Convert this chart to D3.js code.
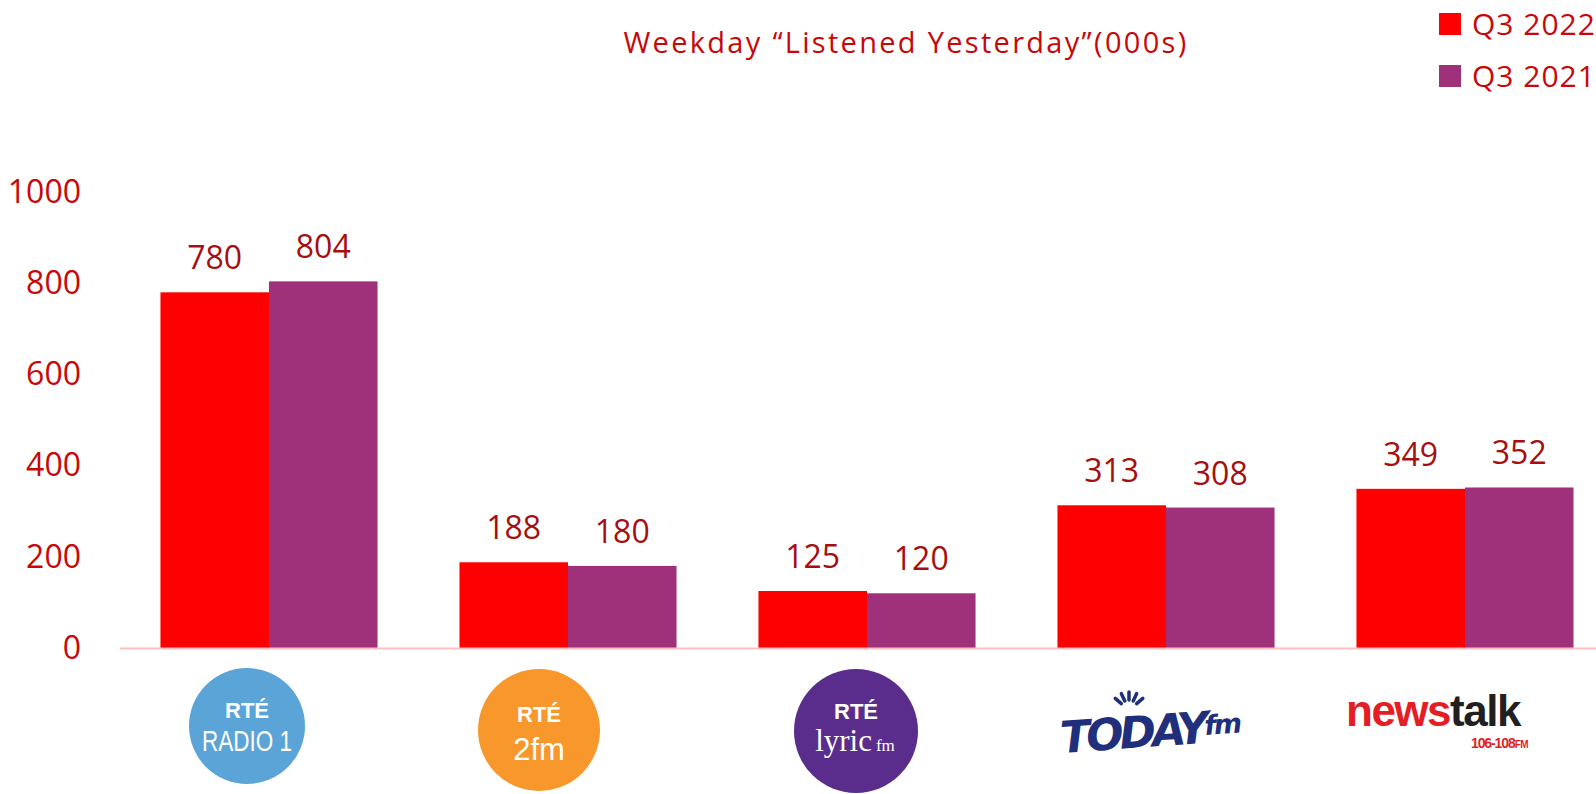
<!DOCTYPE html>
<html>
<head>
<meta charset="utf-8">
<script src="https://cdn.jsdelivr.net/npm/d3@7"></script>
<style>
  body { margin: 0; background: #fff; }
  svg { display: block; font-family: "Open Sans", sans-serif; }
</style>
</head>
<body>
<div class="vis-holder"></div>
<script>
var stations = ['RTE Radio 1', 'RTE 2fm', 'RTE lyric fm', 'Today FM', 'Newstalk'];
var q3_2022 = [780, 188, 125, 313, 349];
var q3_2021 = [804, 180, 120, 308, 352];
var seriesNames = ['Q3 2022', 'Q3 2021'];
var yTicks = [0, 200, 400, 600, 800, 1000];

var width = 1596;
var height = 794;
var colors = ['#ff0000', '#9e3179'];
var textRed = '#c80808';
var labelRed = '#a50f10';

var mydata = stations.map(function(s, i) {
  return { station: s, values: [q3_2022[i], q3_2021[i]] };
});

var svg = d3.select('div.vis-holder')
            .append('svg')
            .attr('width', width)
            .attr('height', height);

// plot runs a little past the right edge, like the original slide
var xScale = d3.scaleBand()
               .domain(stations)
               .range([119.5, 1614.5])
               .paddingInner(0.274)
               .paddingOuter(0.137);

var xInner = d3.scaleBand()
               .domain(seriesNames)
               .range([0, xScale.bandwidth()]);

var yScale = d3.scaleLinear()
               .domain([0, 1000])
               .range([648, 192]);

// y axis labels only
var yAxis = svg.append('g')
               .attr('transform', 'translate(81,0)')
               .call(d3.axisLeft(yScale).tickValues(yTicks).tickFormat(d3.format('d')).tickSize(0).tickPadding(0));
yAxis.select('.domain').remove();
yAxis.selectAll('text')
     .attr('fill', textRed)
     .style('font-size', '32px')
     .style('font-family', '"Open Sans", sans-serif');

// bars
var groups = svg.append('g')
                .selectAll('g')
                .data(mydata)
                .enter()
                .append('g')
                .attr('transform', function(d) { return 'translate(' + xScale(d.station) + ',0)'; });

groups.selectAll('rect')
      .data(function(d) { return d.values.map(function(v, i) { return { key: seriesNames[i], v: v, i: i }; }); })
      .enter()
      .append('rect')
      .attr('x', function(d) { return xInner(d.key); })
      .attr('y', function(d) { return yScale(d.v); })
      .attr('width', xInner.bandwidth())
      .attr('height', function(d) { return yScale(0) - yScale(d.v); })
      .style('fill', function(d) { return colors[d.i]; });

groups.selectAll('text')
      .data(function(d) { return d.values.map(function(v, i) { return { key: seriesNames[i], v: v }; }); })
      .enter()
      .append('text')
      .attr('x', function(d) { return xInner(d.key) + xInner.bandwidth() / 2; })
      .attr('y', function(d) { return yScale(d.v) - 23; })
      .attr('text-anchor', 'middle')
      .attr('fill', labelRed)
      .style('font-size', '32px')
      .text(function(d) { return d.v; });

// baseline
var xAxis = svg.append('g')
               .attr('transform', 'translate(0,' + yScale(0) + ')')
               .call(d3.axisBottom(xScale).tickSize(0).tickFormat(''));
xAxis.select('.domain').attr('stroke', '#ffbfbf').attr('stroke-width', 2);

// title
svg.append('text')
   .attr('x', 906)
   .attr('y', 53)
   .attr('text-anchor', 'middle')
   .attr('fill', textRed)
   .style('font-size', '29px')
   .style('letter-spacing', '2.3px')
   .text('Weekday \u201cListened Yesterday\u201d(000s)');

// legend
var legend = svg.append('g')
                .selectAll('g')
                .data(seriesNames)
                .enter()
                .append('g')
                .attr('transform', function(d, i) { return 'translate(1439,' + (13 + i * 52) + ')'; });
legend.append('rect')
      .attr('width', 22)
      .attr('height', 22)
      .style('fill', function(d, i) { return colors[i]; });
legend.append('text')
      .attr('x', 33)
      .attr('y', 22)
      .attr('fill', textRed)
      .style('font-size', '30px')
      .style('letter-spacing', '1px')
      .text(function(d) { return d; });

// station logos under each group
var logoShift = [-22, -29, -11, -20, -30];
var logos = svg.append('g')
               .selectAll('g')
               .data(stations)
               .enter()
               .append('g')
               .attr('transform', function(d, i) {
                 return 'translate(' + (xScale(d) + xScale.bandwidth() / 2 + logoShift[i]) + ',0)';
               });

function rteCircle(g, fill, cy, r, rteY) {
  g.append('circle').attr('cx', 0).attr('cy', cy).attr('r', r).style('fill', fill);
  g.append('text')
   .attr('x', 0).attr('y', rteY)
   .attr('text-anchor', 'middle')
   .attr('fill', '#fff')
   .style('font-family', '"Liberation Sans", Arial, sans-serif')
   .style('font-size', '22px')
   .style('font-weight', 'bold')
   .text('RT\u00c9');
}

logos.each(function(d, i) {
  var g = d3.select(this);
  if (i === 0) {
    rteCircle(g, '#5ba4d7', 726, 58, 718);
    g.append('text')
     .attr('x', 0).attr('y', 751)
     .attr('text-anchor', 'middle')
     .attr('fill', '#fff')
     .attr('textLength', 90)
     .attr('lengthAdjust', 'spacingAndGlyphs')
     .style('font-family', '"Liberation Sans", Arial, sans-serif')
     .style('font-size', '29px')
     .text('RADIO 1');
  } else if (i === 1) {
    rteCircle(g, '#f7972c', 730, 61, 722);
    g.append('text')
     .attr('x', 0).attr('y', 760)
     .attr('text-anchor', 'middle')
     .attr('fill', '#fff')
     .style('font-family', '"Liberation Sans", Arial, sans-serif')
     .style('font-size', '31px')
     .text('2fm');
  } else if (i === 2) {
    rteCircle(g, '#5a2d8c', 731, 62, 719);
    var t = g.append('text')
             .attr('x', -1).attr('y', 751)
             .attr('text-anchor', 'middle')
             .attr('fill', '#fff')
             .style('font-family', '"Liberation Serif", "DejaVu Serif", serif');
    t.append('tspan').style('font-size', '31px').text('lyric');
    t.append('tspan').attr('dx', 4).style('font-size', '17px').text('fm');
  } else if (i === 3) {
    var tg = g.append('g').attr('transform', 'rotate(-4,0,725)');
    tg.append('text')
      .attr('x', -14).attr('y', 747)
      .attr('text-anchor', 'middle')
      .attr('fill', '#1f2f7c')
      .style('font-family', '"DejaVu Sans", sans-serif')
      .style('font-weight', 'bold')
      .style('font-style', 'italic')
      .style('font-size', '44px')
      .style('letter-spacing', '-4px')
      .text('TODAY');
    tg.append('text')
      .attr('x', 76).attr('y', 739)
      .attr('text-anchor', 'middle')
      .attr('fill', '#1f2f7c')
      .style('font-family', '"DejaVu Sans", sans-serif')
      .style('font-weight', 'bold')
      .style('font-style', 'italic')
      .style('font-size', '27px')
      .style('letter-spacing', '-2px')
      .text('fm');
    // little sun rays over the D
    [-50, -25, 0, 25, 50].forEach(function(a) {
      g.append('line')
       .attr('x1', 0).attr('y1', -10).attr('x2', 0).attr('y2', -18)
       .attr('transform', 'translate(-17,710) rotate(' + a + ')')
       .attr('stroke', '#1f2f7c')
       .attr('stroke-width', 3.5)
       .attr('stroke-linecap', 'round');
    });
  } else {
    // one text element: wordmark plus the frequency line below it
    var nt = g.append('text')
              .style('font-family', '"Liberation Sans", Arial, sans-serif')
              .style('font-weight', 'bold');
    nt.append('tspan')
      .attr('x', -89).attr('y', 726)
      .attr('fill', '#e31e24')
      .style('font-size', '44px')
      .style('letter-spacing', '-1.5px')
      .text('news');
    nt.append('tspan')
      .attr('fill', '#231f20')
      .style('font-size', '44px')
      .style('letter-spacing', '-1.5px')
      .text('talk');
    nt.append('tspan')
      .attr('x', 36).attr('y', 748)
      .attr('fill', '#e31e24')
      .style('font-size', '14px')
      .style('letter-spacing', '-1.1px')
      .text('106-108');
    nt.append('tspan')
      .attr('fill', '#e31e24')
      .style('font-size', '10px')
      .style('letter-spacing', '-0.5px')
      .text('FM');
  }
});
</script>
</body>
</html>
